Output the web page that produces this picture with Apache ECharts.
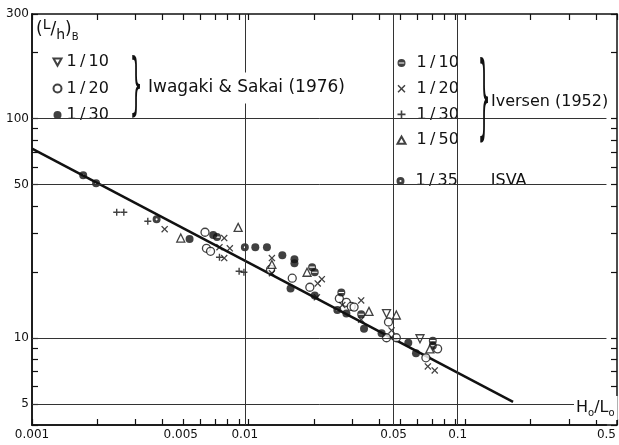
<!DOCTYPE html>
<html>
<head>
<meta charset="utf-8">
<script src="https://cdn.jsdelivr.net/npm/echarts@6/dist/echarts.min.js"></script>
<style>
html, body { margin: 0; padding: 0; background: #fff; }
#main { width: 619px; height: 445px; }
</style>
</head>
<body>
<div id="main"></div>
<script>
var FONT = 'DejaVu Sans';

// axis labels / grid lines
var xTickLabels = [0.001, 0.005, 0.01, 0.05, 0.1, 0.5];
var yTickLabels = [5, 10, 50, 100, 300];
var xGridLines = [0.005, 0.01, 0.05, 0.1];
var yGridLines = [5, 10, 50, 100];

// Iwagaki & Sakai (1976)
var iwa10 = [[0.0463, 12.9], [0.0665, 9.9]];
var iwa20 = [[0.0065, 30.3], [0.0066, 25.6], [0.0069, 24.8], [0.0132, 20.5], [0.0167, 18.7],
    [0.0202, 17.0], [0.0278, 15.1], [0.0300, 14.5], [0.0316, 13.9], [0.0326, 13.8],
    [0.0473, 11.8], [0.0463, 10.0], [0.0515, 10.0], [0.0805, 8.9], [0.0709, 8.1]];
var iwa30 = [[0.0055, 28.2], [0.0071, 29.4], [0.0112, 25.9], [0.0127, 25.9], [0.0150, 23.8],
    [0.0171, 22.8], [0.0171, 21.9], [0.0164, 16.8], [0.0213, 15.6], [0.0300, 12.9],
    [0.0363, 11.0], [0.0439, 10.5], [0.0586, 9.5], [0.0637, 8.5]];

// Iversen (1952)
var ive10 = [[0.0074, 28.8], [0.0207, 21.0], [0.0213, 19.9], [0.0284, 16.1], [0.0352, 12.8],
    [0.0764, 9.7], [0.0764, 9.2]];
var ive20 = [[0.0042, 31.3], [0.0080, 28.5], [0.0076, 25.9], [0.0085, 25.6], [0.0080, 23.1],
    [0.0134, 23.1], [0.0134, 19.7], [0.0230, 18.5], [0.0220, 17.7], [0.0218, 15.3],
    [0.0287, 14.1], [0.0352, 14.8], [0.0352, 12.1], [0.0489, 10.8], [0.0724, 7.4], [0.0780, 7.1]];
var ive30 = [[0.0025, 37.4], [0.0027, 37.4], [0.0035, 34.0], [0.0076, 23.3], [0.0094, 20.1], [0.0099, 19.9]];
var ive50 = [[0.0050, 28.5], [0.0093, 31.9], [0.0134, 21.6], [0.0196, 19.9], [0.0383, 13.2],
    [0.0515, 12.7], [0.0740, 8.9]];

// ISVA 1/35
var isva = [[0.00174, 55.2], [0.0020, 50.7], [0.00385, 34.7], [0.0100, 25.9], [0.0272, 13.4]];

// fitted line
var fitLine = [[0.001, 73], [0.182, 5.1]];

var X_MIN = 0.001, X_MAX = 0.5, Y_MIN = 4, Y_MAX = 300;

// tick marks 1..9 per decade, in log10 units for the frame axes
function logTicks(lo, hi) {
    var out = [];
    for (var e = Math.floor(Math.log10(lo)); e <= Math.ceil(Math.log10(hi)); e++) {
        for (var m = 1; m <= 9; m++) {
            var v = +(m * Math.pow(10, e)).toPrecision(3);
            if (v >= lo && v <= hi) out.push(Math.log10(v));
        }
    }
    return out;
}

var SYM_TRI_DOWN = 'path://M0,0 L10,0 L5,9 Z';
var SYM_TRI_UP = 'path://M5,0 L10,9 L0,9 Z';
var SYM_CROSS = 'path://M0,1.3 L1.3,0 L5,3.7 L8.7,0 L10,1.3 L6.3,5 L10,8.7 L8.7,10 L5,6.3 L1.3,10 L0,8.7 L3.7,5 Z';
var SYM_PLUS = 'path://M4,0 L6,0 L6,4 L10,4 L10,6 L6,6 L6,10 L4,10 L4,6 L0,6 L0,4 L4,4 Z';
var SYM_BAR = 'path://M5,0 A5,5 0 1,1 5,10 A5,5 0 1,1 5,0 Z M1.6,4.3 L1.6,5.7 L8.4,5.7 L8.4,4.3 Z';
var SYM_DOT = 'path://M5,0 A5,5 0 1,1 5,10 A5,5 0 1,1 5,0 Z M5,3.7 A1.3,1.3 0 1,0 5,6.3 A1.3,1.3 0 1,0 5,3.7 Z';

function scat(name, data, symbol, size, open) {
    return {
        name: name,
        type: 'scatter',
        data: data,
        symbol: symbol,
        symbolSize: size,
        z: 3,
        itemStyle: open
            ? { color: '#fff', borderColor: '#111', borderWidth: 1.3 }
            : { color: '#111', borderWidth: 0 }
    };
}

var myChart = echarts.init(document.getElementById('main'));

var gridLineData = [];
xGridLines.forEach(function (v) { gridLineData.push({ xAxis: v }); });
yGridLines.forEach(function (v) { gridLineData.push({ yAxis: v }); });

function legendName(name) {
    return name.slice(name.lastIndexOf(' ') + 1).replace('/', '\u2009/\u2009');
}

var legendText = { fontFamily: FONT, fontSize: 16, color: '#111', lineHeight: 16 };

// data axis (log) carries labels
function dataAxis(pos, lo, hi, labels, fmt, margin) {
    return {
        type: 'log', min: lo, max: hi, position: pos, gridIndex: 0,
        axisLine: { show: true, lineStyle: { color: '#111', width: 1.5 } },
        axisTick: { show: false },
        axisLabel: {
            show: true, customValues: labels, margin: margin,
            fontFamily: FONT, fontSize: 12, color: '#111', formatter: fmt
        },
        splitLine: { show: false }
    };
}
// frame axis (log10 units) carries the tick marks, in its own overlaid grid
function tickAxis(pos, lo, hi, gridIndex) {
    return {
        type: 'value', min: Math.log10(lo), max: Math.log10(hi), position: pos, gridIndex: gridIndex,
        axisLine: { show: true, lineStyle: { color: '#111', width: 1.5 } },
        axisTick: { show: true, inside: true, length: 6, customValues: logTicks(lo, hi), lineStyle: { color: '#111', width: 1.2 } },
        axisLabel: { show: false },
        splitLine: { show: false }
    };
}

var gridBox = { left: 32, right: 2, top: 14, bottom: 20 };

option = {
    animation: false,
    backgroundColor: '#fff',
    grid: [gridBox, gridBox, gridBox],
    xAxis: [
        dataAxis('bottom', X_MIN, X_MAX, xTickLabels, function (v) { return String(+(+v).toPrecision(3)); }, 4),
        tickAxis('bottom', X_MIN, X_MAX, 1),
        tickAxis('top', X_MIN, X_MAX, 2)
    ],
    yAxis: [
        dataAxis('left', Y_MIN, Y_MAX, yTickLabels, function (v) { return String(Math.round(v)); }, 3),
        tickAxis('left', Y_MIN, Y_MAX, 1),
        tickAxis('right', Y_MIN, Y_MAX, 2)
    ],
    legend: [{
        data: ['Iwagaki & Sakai 1/10', 'Iwagaki & Sakai 1/20', 'Iwagaki & Sakai 1/30'],
        orient: 'vertical', left: 38, top: 48,
        padding: [6, 44, 4, 14.5], itemGap: 10.5, itemWidth: 8, itemHeight: 8,
        backgroundColor: '#fff', selectedMode: false,
        formatter: legendName, textStyle: legendText
    }, {
        data: ['Iversen 1/10', 'Iversen 1/20', 'Iversen 1/30', 'Iversen 1/50'],
        orient: 'vertical', left: 385, top: 50,
        padding: [5, 38, 6, 11.5], itemGap: 9.7, itemWidth: 8, itemHeight: 8,
        backgroundColor: '#fff', selectedMode: false,
        formatter: function (name) { return '{t|' + legendName(name) + '}'; },
        textStyle: {
            fontFamily: FONT, fontSize: 16, color: '#111', lineHeight: 16,
            rich: { t: { fontFamily: FONT, fontSize: 16, color: '#111', lineHeight: 16, padding: [0, 0, 0, 6] } }
        }
    }, {
        data: ['ISVA 1/35'],
        orient: 'vertical', left: 385, top: 150,
        padding: [23, 10, 8, 11.5], itemWidth: 8, itemHeight: 8,
        backgroundColor: '#fff', selectedMode: false,
        formatter: function (name) { return '{t|' + legendName(name) + '}{u|ISVA}'; },
        textStyle: {
            fontFamily: FONT, fontSize: 16, color: '#111', lineHeight: 16,
            rich: {
                t: { fontFamily: FONT, fontSize: 16, color: '#111', lineHeight: 16, padding: [0, 0, 0, 6] },
                u: { fontFamily: FONT, fontSize: 16, color: '#111', lineHeight: 16, padding: [0, 0, 0, 33] }
            }
        }
    }],
    graphic: [{
        type: 'text', x: 36, y: 30, z: 10,
        style: {
            text: '{a|(}{l|L}{a|/}{h|h}{a|)}{b|B}',
            align: 'left', verticalAlign: 'middle',
            rich: {
                a: { fontFamily: FONT, fontSize: 17, fill: '#111', lineHeight: 24, verticalAlign: 'middle' },
                l: { fontFamily: FONT, fontSize: 14, fill: '#111', lineHeight: 14, verticalAlign: 'top' },
                h: { fontFamily: FONT, fontSize: 14, fill: '#111', lineHeight: 14, verticalAlign: 'bottom' },
                b: { fontFamily: FONT, fontSize: 10, fill: '#111', lineHeight: 10, verticalAlign: 'bottom' }
            }
        }
    }, {
        type: 'text', x: 136, y: 89, scaleY: 3.4, z: 10,
        style: { text: '}', font: '20px "DejaVu Sans"', fill: '#111', align: 'center', verticalAlign: 'middle' }
    }, {
        type: 'text', x: 145, y: 88, z: 10,
        style: {
            text: 'Iwagaki & Sakai (1976)', font: '17px "DejaVu Sans"', fill: '#111',
            align: 'left', verticalAlign: 'middle', backgroundColor: '#fff', padding: [7, 3]
        }
    }, {
        type: 'text', x: 484, y: 104, scaleY: 4.6, z: 10,
        style: { text: '}', font: '20px "DejaVu Sans"', fill: '#111', align: 'center', verticalAlign: 'middle' }
    }, {
        type: 'text', x: 491, y: 102, z: 10,
        style: { text: 'Iversen (1952)', font: '16px "DejaVu Sans"', fill: '#111', align: 'left', verticalAlign: 'middle' }
    }, {
        type: 'text', x: 574, y: 408, z: 10,
        style: {
            text: '{m|H}{s|o}{m|/L}{s|o}',
            align: 'left', verticalAlign: 'middle', backgroundColor: '#fff', padding: [2, 3, 2, 2],
            rich: {
                m: { fontFamily: FONT, fontSize: 16, fill: '#111', lineHeight: 20, verticalAlign: 'middle' },
                s: { fontFamily: FONT, fontSize: 10, fill: '#111', lineHeight: 10, verticalAlign: 'bottom' }
            }
        }
    }],
    series: [{
        name: 'fit',
        type: 'line',
        data: fitLine,
        showSymbol: false,
        symbol: 'none',
        z: 2,
        lineStyle: { color: '#111', width: 2.5 },
        markLine: {
            silent: true,
            symbol: 'none',
            label: { show: false },
            lineStyle: { color: '#333', width: 1, type: 'solid' },
            data: gridLineData
        }
    },
        scat('Iwagaki & Sakai 1/10', iwa10, SYM_TRI_DOWN, 8, true),
        scat('Iwagaki & Sakai 1/20', iwa20, 'circle', 8, true),
        scat('Iwagaki & Sakai 1/30', iwa30, 'circle', 8, false),
        scat('Iversen 1/10', ive10, SYM_BAR, 8, false),
        scat('Iversen 1/20', ive20, SYM_CROSS, 7, false),
        scat('Iversen 1/30', ive30, SYM_PLUS, 7, false),
        scat('Iversen 1/50', ive50, SYM_TRI_UP, 8, true),
        scat('ISVA 1/35', isva, SYM_DOT, 8, false),
        // empty series keep the frame grids' axes active
        { type: 'scatter', xAxisIndex: 1, yAxisIndex: 1, data: [], silent: true },
        { type: 'scatter', xAxisIndex: 2, yAxisIndex: 2, data: [], silent: true }
    ]
};

myChart.setOption(option);

window.addEventListener('resize', function () {
    myChart.resize();
});
</script>
</body>
</html>
